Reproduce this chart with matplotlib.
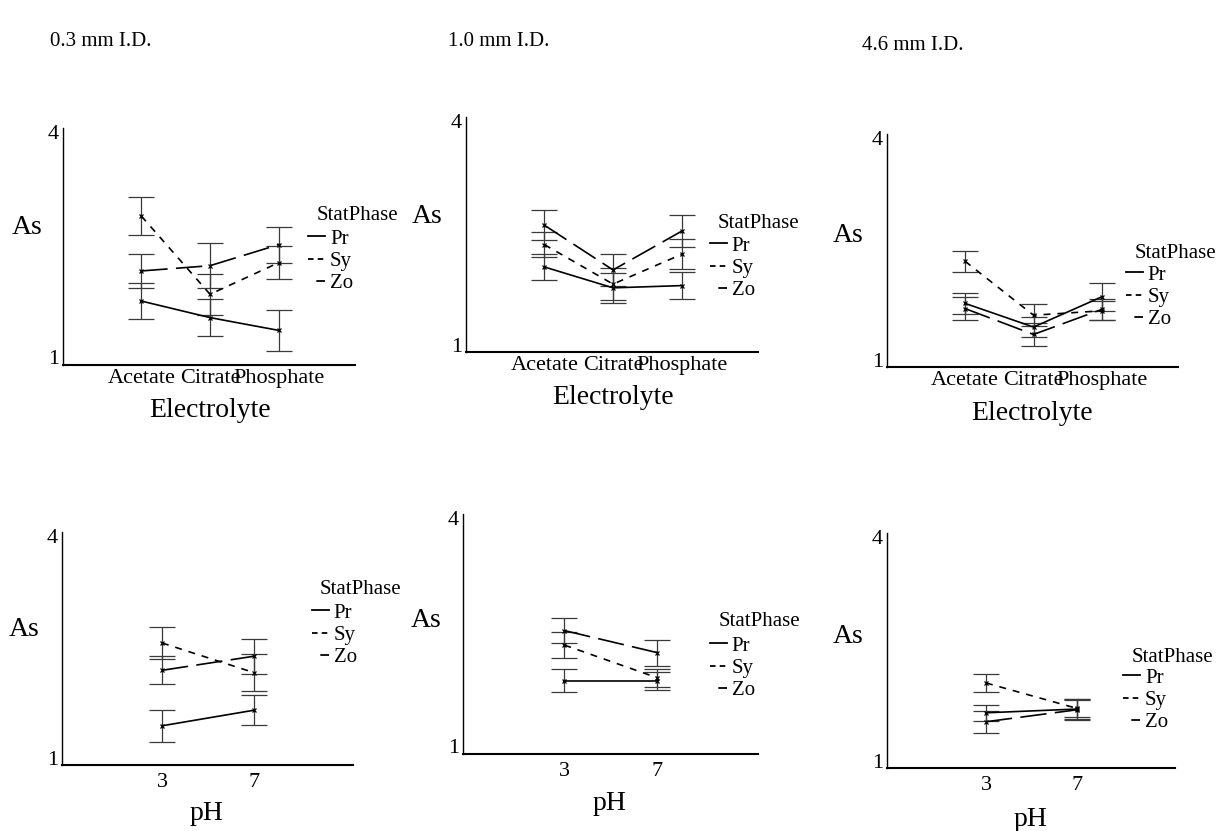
import matplotlib
matplotlib.use("Agg")
import matplotlib.pyplot as plt
from matplotlib.lines import Line2D

# data (As = asymmetry factor)
phases = ["Pr", "Sy", "Zo"]
electrolytes = ["Acetate", "Citrate", "Phosphate"]
ph_values = [3, 7]

# electrolyte panels
pr_elec_03 = [1.75, 1.53, 1.36]
sy_elec_03 = [2.88, 1.84, 2.26]
zo_elec_03 = [2.15, 2.22, 2.50]
pr_elec_03_err = [0.24, 0.25, 0.27]
sy_elec_03_err = [0.25, 0.27, 0.22]
zo_elec_03_err = [0.22, 0.30, 0.24]

pr_elec_10 = [2.04, 1.76, 1.79]
sy_elec_10 = [2.34, 1.81, 2.21]
zo_elec_10 = [2.60, 2.00, 2.52]
pr_elec_10_err = [0.17, 0.20, 0.18]
sy_elec_10_err = [0.17, 0.21, 0.20]
zo_elec_10_err = [0.20, 0.21, 0.21]

pr_elec_46 = [1.76, 1.44, 1.85]
sy_elec_46 = [2.33, 1.60, 1.66]
zo_elec_46 = [1.69, 1.34, 1.68]
pr_elec_46_err = [0.14, 0.14, 0.19]
sy_elec_46_err = [0.14, 0.15, 0.13]
zo_elec_46_err = [0.15, 0.16, 0.14]

# pH panels
pr_ph_03 = [1.43, 1.64]
sy_ph_03 = [2.55, 2.15]
zo_ph_03 = [2.18, 2.37]
pr_ph_03_err = [0.22, 0.20]
sy_ph_03_err = [0.22, 0.25]
zo_ph_03_err = [0.19, 0.24]

pr_ph_10 = [1.86, 1.86]
sy_ph_10 = [2.33, 1.90]
zo_ph_10 = [2.52, 2.23]
pr_ph_10_err = [0.15, 0.12]
sy_ph_10_err = [0.17, 0.12]
zo_ph_10_err = [0.16, 0.17]

pr_ph_46 = [1.64, 1.69]
sy_ph_46 = [2.04, 1.70]
zo_ph_46 = [1.52, 1.68]
pr_ph_46_err = [0.11, 0.13]
sy_ph_46_err = [0.125, 0.12]
zo_ph_46_err = [0.15, 0.13]

titles = ["0.3 mm I.D.", "1.0 mm I.D.", "4.6 mm I.D."]

plt.rcParams["font.family"] = ["Liberation Serif", "DejaVu Serif"]
plt.rcParams["lines.scale_dashes"] = False

W, H = 1220, 831
fig = plt.figure(figsize=(12.2, 8.31), dpi=100)

styles = {"Pr": "-", "Sy": (0, (5, 5)), "Zo": (0, (19, 6))}
leg_styles = {"Pr": "-", "Sy": (0, (4, 3)), "Zo": (19, (19, 6))}


def rect(l, t, r, b):
    return [l / W, 1 - b / H, (r - l) / W, (b - t) / H]


def panel(box, xvals, means, errs, xlim, xticklabels, xlabel,
          ylab_xy, xlab_xy, leg_xy, title_xy, xpad):
    ax = fig.add_axes(rect(*box))
    for name, m, e in zip(phases, means, errs):
        ax.errorbar(xvals, m, yerr=e, color="black", ecolor="#3a3a3a",
                    ls=styles[name], lw=1.2, elinewidth=0.9,
                    capsize=9.5, capthick=1.3, marker="x", ms=3.5, mew=0.9)
    ax.set_xlim(*xlim)
    ax.set_ylim(0.9, 4.05)
    ax.set_yticks([1, 4])
    ax.set_xticks(xvals)
    ax.set_xticklabels(xticklabels)
    ax.tick_params(length=0, labelsize=16)
    ax.tick_params(axis="x", pad=xpad)
    ax.tick_params(axis="y", pad=3)
    for s in ["top", "right"]:
        ax.spines[s].set_visible(False)
    ax.spines["left"].set_linewidth(1.0)
    ax.spines["bottom"].set_linewidth(1.5)
    ax.set_ylabel("As", rotation=0, fontsize=20, ha="center", va="center")
    ax.yaxis.set_label_coords(*ylab_xy)
    ax.set_xlabel(xlabel, fontsize=20, va="center")
    ax.xaxis.set_label_coords(*xlab_xy)

    handles = [Line2D([], [], color="black", lw=1.3, ls=leg_styles[p]) for p in phases]
    ax.legend(handles, phases, loc="center left",
              bbox_to_anchor=(leg_xy[0] / W, 1 - leg_xy[1] / H),
              bbox_transform=fig.transFigure, frameon=False, fontsize=15,
              borderpad=0, borderaxespad=0, handlelength=0.8,
              handletextpad=0.25, labelspacing=0.12)
    fig.text(title_xy[0] / W, 1 - title_xy[1] / H, "StatPhase",
             fontsize=15, va="center", ha="left")
    return ax


cat_x = [0, 1, 2]
cat_lim = (-1.14, 3.11)
ph_lim = (-1.36, 11.33)

panel((63, 128, 355, 365), cat_x,
      [pr_elec_03, sy_elec_03, zo_elec_03],
      [pr_elec_03_err, sy_elec_03_err, zo_elec_03_err],
      cat_lim, electrolytes, "Electrolyte",
      (-0.123, 0.579), (0.503, -0.19), (308, 261), (317, 215), 3)
panel((466, 117, 758, 352), cat_x,
      [pr_elec_10, sy_elec_10, zo_elec_10],
      [pr_elec_10_err, sy_elec_10_err, zo_elec_10_err],
      cat_lim, electrolytes, "Electrolyte",
      (-0.134, 0.575), (0.503, -0.193), (710, 268), (718, 223), 3)
panel((887, 134, 1178, 367), cat_x,
      [pr_elec_46, sy_elec_46, zo_elec_46],
      [pr_elec_46_err, sy_elec_46_err, zo_elec_46_err],
      cat_lim, electrolytes, "Electrolyte",
      (-0.134, 0.565), (0.498, -0.199), (1126, 297), (1135, 253), 3)

panel((62, 532, 353, 765), ph_values,
      [pr_ph_03, sy_ph_03, zo_ph_03],
      [pr_ph_03_err, sy_ph_03_err, zo_ph_03_err],
      ph_lim, [str(v) for v in ph_values], "pH",
      (-0.131, 0.58), (0.498, -0.208), (312, 635), (320, 590), 6)
panel((463, 514, 758, 754), ph_values,
      [pr_ph_10, sy_ph_10, zo_ph_10],
      [pr_ph_10_err, sy_ph_10_err, zo_ph_10_err],
      ph_lim, [str(v) for v in ph_values], "pH",
      (-0.125, 0.558), (0.498, -0.206), (710, 668), (719, 622), 6)
panel((887, 533, 1175, 768), ph_values,
      [pr_ph_46, sy_ph_46, zo_ph_46],
      [pr_ph_46_err, sy_ph_46_err, zo_ph_46_err],
      ph_lim, [str(v) for v in ph_values], "pH",
      (-0.135, 0.558), (0.497, -0.22), (1123, 700), (1132, 657), 6)

for t, (x, y) in zip(titles, [(50, 42), (448, 42), (862, 46)]):
    fig.text(x / W, 1 - y / H, t, fontsize=15, va="center", ha="left")

fig.savefig("out.png", dpi=100)
